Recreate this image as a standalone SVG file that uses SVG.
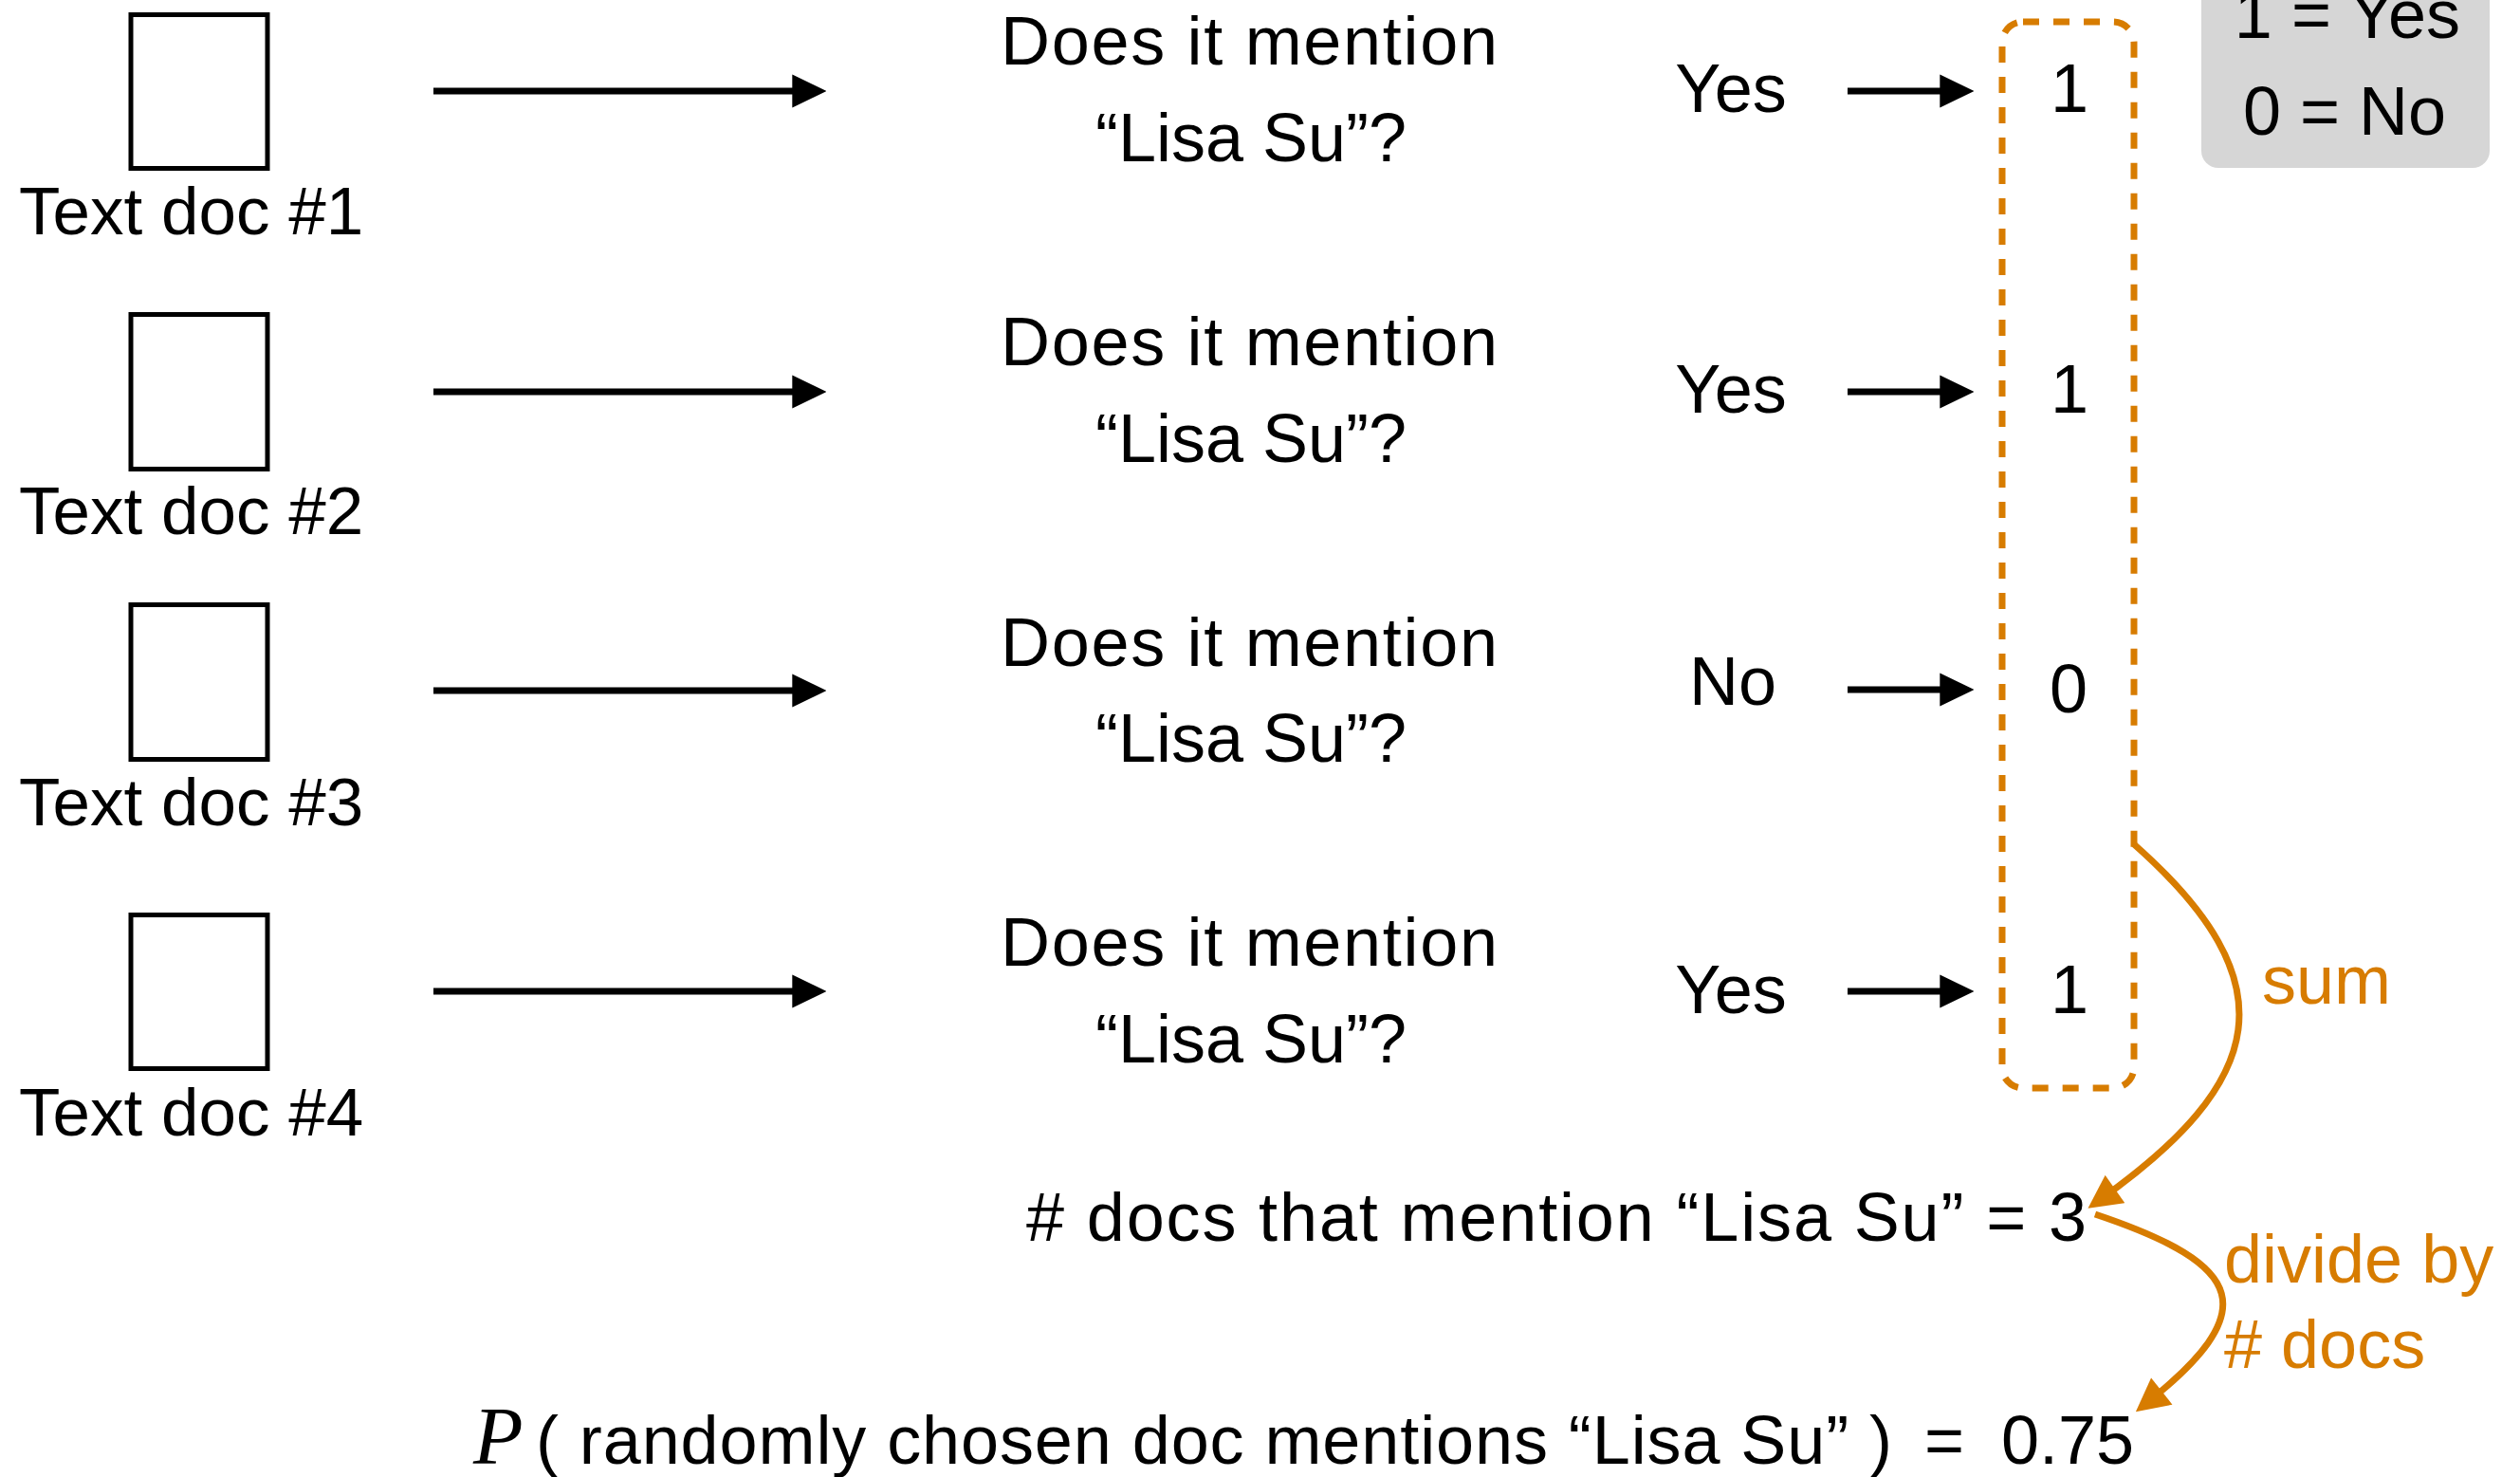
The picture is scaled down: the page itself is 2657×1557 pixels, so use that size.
<svg xmlns="http://www.w3.org/2000/svg" width="2657" height="1557" viewBox="0 0 2657 1557">
  <style>
    text { font-family: "Liberation Sans", Arial, sans-serif; font-size: 72px; fill: #000; }
    .lbl { font-size: 71px; }
    .mid { text-anchor: middle; }
    .or { fill: #D77C00; }
    .doc { fill: none; stroke: #000; stroke-width: 5; }
    .blk { fill: none; stroke: #000; stroke-width: 7; }
    .orc { fill: none; stroke: #D77C00; stroke-width: 7; }
    .dash { fill: none; stroke: #D77C00; stroke-width: 7; stroke-dasharray: 17 15; }
    .math { font-family: "Liberation Serif", "Times New Roman", serif; font-style: italic; font-size: 86px; }
  </style>
  <defs>
    <marker id="ab" markerUnits="userSpaceOnUse" markerWidth="36" markerHeight="36" refX="24" refY="17" orient="auto" viewBox="0 0 35 34">
      <path d="M0,0 L35,17 L0,34 z" fill="#000"/>
    </marker>
    <marker id="ao" markerUnits="userSpaceOnUse" markerWidth="36" markerHeight="36" refX="22" refY="17" orient="auto" viewBox="0 0 33 34">
      <path d="M0,0 L33,17 L0,34 z" fill="#D77C00"/>
    </marker>
  </defs>

  <g id="legend">
    <rect x="2321" y="-40" width="304" height="217" rx="18" fill="#d6d6d6"/>
    <text x="2475" y="40" class="mid">1 = Yes</text>
    <text x="2472" y="142" class="mid">0 = No</text>
  </g>

  <g id="doc1">
    <rect class="doc" x="138" y="15.5" width="144" height="162"/>
    <text class="lbl" x="20" y="247">Text doc #1</text>
  </g>
  <g id="doc2">
    <rect class="doc" x="138" y="331.5" width="144" height="163"/>
    <text class="lbl" x="20" y="563">Text doc #2</text>
  </g>
  <g id="doc3">
    <rect class="doc" x="138" y="637.5" width="144" height="163"/>
    <text class="lbl" x="20" y="870">Text doc #3</text>
  </g>
  <g id="doc4">
    <rect class="doc" x="138" y="964.5" width="144" height="162"/>
    <text class="lbl" x="20" y="1197">Text doc #4</text>
  </g>

  <g id="q1">
    <text x="1055" y="68" textLength="524" lengthAdjust="spacing">Does it mention</text>
    <text x="1319" y="170" class="mid">“Lisa Su”?</text>
  </g>
  <g id="q2">
    <text x="1055" y="385" textLength="524" lengthAdjust="spacing">Does it mention</text>
    <text x="1319" y="487" class="mid">“Lisa Su”?</text>
  </g>
  <g id="q3">
    <text x="1055" y="702" textLength="524" lengthAdjust="spacing">Does it mention</text>
    <text x="1319" y="803" class="mid">“Lisa Su”?</text>
  </g>
  <g id="q4">
    <text x="1055" y="1018" textLength="524" lengthAdjust="spacing">Does it mention</text>
    <text x="1319" y="1120" class="mid">“Lisa Su”?</text>
  </g>

  <g id="a1"><text x="1825" y="118" class="mid">Yes</text></g>
  <g id="a2"><text x="1825" y="435" class="mid">Yes</text></g>
  <g id="a3"><text x="1827" y="743" class="mid">No</text></g>
  <g id="a4"><text x="1825" y="1068" class="mid">Yes</text></g>

  <g id="values">
    <rect class="dash" x="2111" y="23" width="139" height="1124" rx="22"/>
    <text x="2182" y="118" class="mid">1</text>
    <text x="2182" y="435" class="mid">1</text>
    <text x="2181" y="751" class="mid">0</text>
    <text x="2182" y="1068" class="mid">1</text>
  </g>

  <g id="count">
    <text x="1082" y="1308" textLength="1118" lengthAdjust="spacing"># docs that mention “Lisa Su” = 3</text>
  </g>

  <g id="prob">
    <text class="math" x="499" y="1543">P</text>
    <text x="565" y="1543" textLength="1430" lengthAdjust="spacing">( randomly chosen doc mentions “Lisa Su” )</text>
    <text x="2050" y="1543" class="mid">=</text>
    <text x="2110" y="1543">0.75</text>
  </g>

  <g id="connectors">
    <line class="blk" x1="457" y1="96" x2="860" y2="96" marker-end="url(#ab)"/>
    <line class="blk" x1="457" y1="413" x2="860" y2="413" marker-end="url(#ab)"/>
    <line class="blk" x1="457" y1="728" x2="860" y2="728" marker-end="url(#ab)"/>
    <line class="blk" x1="457" y1="1045" x2="860" y2="1045" marker-end="url(#ab)"/>
    <line class="blk" x1="1948" y1="96" x2="2070" y2="96" marker-end="url(#ab)"/>
    <line class="blk" x1="1948" y1="413" x2="2070" y2="413" marker-end="url(#ab)"/>
    <line class="blk" x1="1948" y1="727" x2="2070" y2="727" marker-end="url(#ab)"/>
    <line class="blk" x1="1948" y1="1045" x2="2070" y2="1045" marker-end="url(#ab)"/>
    <path class="orc" d="M2250,890 C2415,1036 2391,1140 2211,1267" marker-end="url(#ao)"/>
    <path class="orc" d="M2209,1280 C2370,1334 2386,1382 2261,1481" marker-end="url(#ao)"/>
    <text x="2385" y="1058" class="or">sum</text>
    <text x="2345" y="1352" class="or">divide by</text>
    <text x="2345" y="1442" class="or"># docs</text>
  </g>
</svg>
